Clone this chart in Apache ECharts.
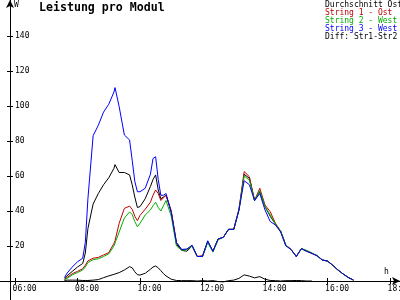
<!DOCTYPE html>
<html>
<head>
<meta charset="utf-8">
<script src="https://cdn.jsdelivr.net/npm/echarts@6/dist/echarts.min.js"></script>
<style>html,body{margin:0;padding:0;background:#fff}#c{width:400px;height:300px}</style>
</head>
<body>
<div id="c"></div>
<script>
var times = ["07:35","07:40","07:50","08:00","08:10","08:15","08:20","08:30","08:40","08:50","09:00","09:10","09:12","09:20","09:30","09:40","09:45","09:50","09:55","10:00","10:10","10:20","10:25","10:30","10:35","10:40","10:45","10:50","11:00","11:10","11:20","11:30","11:40","11:50","12:00","12:10","12:20","12:30","12:40","12:50","13:00","13:10","13:20","13:30","13:40","13:50","14:00","14:10","14:20","14:30","14:40","14:50","15:00","15:10","15:20","15:30","15:40","15:50","16:00","16:10","16:20","16:30","16:40","16:50"];

var avgValues = [1.5,3,5.5,8,10,16,30,44,50,55,59,64.4,66.5,62,62,60.6,55,48,42,42.5,47,54,58,60.6,52,47,48,49,39.6,21,17.5,17,20,14,14,22.5,17,24,25,29.5,29.5,40.6,61,58.7,46,51,42.5,37,32.5,28.5,20.5,18,14,18.5,17,15.8,14.5,12,11.4,9,6.3,4,2,0.5];
var str1Values = [1,2,4.2,5.5,7,9,11.5,13,13.5,14.9,16.2,21.5,23,33,41.5,42.8,41,37,34.5,37.5,41,45,49,52,50,46,47.5,49,40,22,18,18,20,14,14.5,22.5,17,24,25,29.5,29.5,41,62.5,59.6,46,53,43.4,39.6,33,28.5,20.5,18,14,18.5,17,15.8,14.5,12,11.4,9,6.3,4,2,0.5];
var str2Values = [0.8,1.5,3.5,4.8,6.3,8,10.5,12.2,12.7,14,15.5,20,21,28,36,39.5,38,34,31,33,37.7,40.6,43,45,42,40,43,46,37,20,17.5,18,20,14,14,22,16.5,23.5,25,29.5,29.5,40.6,60,57.7,46,51.6,42.5,37.7,32.5,28.5,20.5,18,14,18.5,17.5,16,14.5,12,11.4,9,6.3,4,2,0.5];
var str3Values = [2,4.5,8,11,13,22,47,83,89,96.5,101,108,110.5,99.6,83.4,80.6,69,57,51,51,53,61,70,71,58,49,49,50,39,22,18,18.3,20.5,14,14,23,17,24,25,29.5,29.5,40.6,57.3,55,46,50,40.6,34,32,28,20,18,14,18.5,17,15.8,14.3,12,11.4,9,6.3,4,2,0.5];
var diffValues = [0.3,0.5,0.5,0.5,0.3,0.3,0.3,0.5,0.8,1.9,2.9,3.8,4,4.8,6.3,8.2,7.5,5.3,3.6,3.4,4.4,6.7,8,8.6,7.5,5.9,4.2,2.9,1,0.3,0.2,0.2,0.2,0,0.2,0,0.2,-0.3,-0.5,0.2,0.5,1.5,3.5,2.8,1.8,2.5,1,0.3,0.2,0,0.2,0.2,0.3,0.2,0,0,null,null,null,null,null,null,null,null];

var seriesNames = ["Durchschnitt Ost","String 1 - Ost","String 2 - West","String 3 - West","Diff: Str1-Str2"];
var seriesColors = ["#000000","#c00000","#00b000","#0000ff","#000000"];
var seriesValues = [avgValues, str1Values, str2Values, str3Values, diffValues];

var xTickHours = [6,8,10,12,14,16,18];
var yTickValues = [20,40,60,80,100,120,140];

function toHours(t){ var p=t.split(':'); return +p[0] + (+p[1])/60; }
function pairs(vals){ return times.map(function(t,i){ return [toHours(t), vals[i]]; }); }

var FONT = "DejaVu Sans Mono";
var chart = echarts.init(document.getElementById('c'), null, {renderer:'canvas'});

var xMin = 5.52, xMax = 18.32, yMax = 160.57;

var option = {
  animation: false,
  backgroundColor: '#ffffff',
  title: [
    {text: 'Leistung pro Modul', left: 39, top: 2, padding: 0, textStyle: {fontFamily: FONT, fontSize: 11.6, fontWeight: 'bold', color: '#000'}},
    {text: 'W', left: 14, top: 1, padding: 0, textStyle: {fontFamily: FONT, fontSize: 8, fontWeight: 'normal', color: '#000'}},
    {text: 'h', left: 384, top: 268, padding: 0, textStyle: {fontFamily: FONT, fontSize: 8, fontWeight: 'normal', color: '#000'}}
  ],
  legend: {
    orient: 'vertical', left: 320, top: 1, padding: 0, itemWidth: 0, itemHeight: 8, itemGap: 0, icon: 'none',
    selectedMode: false,
    textStyle: {fontFamily: FONT, fontSize: 8, lineHeight: 8},
    data: seriesNames.map(function(n,i){ return {name: n, textStyle: {color: seriesColors[i]}}; })
  },
  grid: [
    {left: 0, right: 0, top: 0, bottom: 19, containLabel: false, outerBoundsMode: 'none'},
    {left: 0, right: 0, top: 0, bottom: 0, containLabel: false, outerBoundsMode: 'none'}
  ],
  xAxis: [
    {type: 'value', gridIndex: 0, min: xMin, max: xMax,
     axisLine: {show: true, onZero: false, symbol: ['none','arrow'], symbolSize: [6,8], lineStyle: {color: '#000', width: 1}},
     axisTick: {show: true, length: 3, inside: false, customValues: xTickHours, lineStyle: {color: '#000'}},
     axisLabel: {show: true, customValues: xTickHours, margin: 4, fontFamily: FONT, fontSize: 8, color: '#000', align: 'center',
       formatter: function(v){ return '    ' + (v < 10 ? '0' : '') + v + ':00'; }},
     splitLine: {show: false}},
    {type: 'value', gridIndex: 0, min: xMin, max: xMax, position: 'bottom',
     axisLine: {show: false, onZero: false},
     axisTick: {show: true, length: 3, inside: true, customValues: xTickHours, lineStyle: {color: '#000'}},
     axisLabel: {show: false}, splitLine: {show: false}},
    {type: 'value', gridIndex: 1, min: xMin, max: xMax, show: false}
  ],
  yAxis: [
    {type: 'value', gridIndex: 0, min: 0, max: yMax, position: 'left', offset: -10,
     axisLine: {show: false, onZero: false},
     axisTick: {show: true, length: 3, inside: false, customValues: yTickValues, lineStyle: {color: '#000'}},
     axisLabel: {show: true, inside: true, customValues: yTickValues, margin: 5, fontFamily: FONT, fontSize: 8, color: '#000'},
     splitLine: {show: false}},
    {type: 'value', gridIndex: 0, min: 0, max: yMax, position: 'left', offset: -10,
     axisLine: {show: false, onZero: false},
     axisTick: {show: true, length: 3, inside: true, customValues: yTickValues, lineStyle: {color: '#000'}},
     axisLabel: {show: false}, splitLine: {show: false}},
    {type: 'value', gridIndex: 1, min: 0, max: 1, position: 'left', offset: -10,
     axisLine: {show: true, onZero: false, symbol: ['none','arrow'], symbolSize: [6,8], lineStyle: {color: '#000', width: 1}},
     axisTick: {show: false}, axisLabel: {show: false}, splitLine: {show: false}}
  ],
  series: seriesNames.map(function(n,i){
    return {name: n, type: 'line', xAxisIndex: 0, yAxisIndex: 0, data: pairs(seriesValues[i]),
      showSymbol: false, symbol: 'none', connectNulls: false, clip: false,
      lineStyle: {color: seriesColors[i], width: 1}, itemStyle: {color: seriesColors[i]}, z: 2 + i};
  })
};
chart.setOption(option);
</script>
</body>
</html>
